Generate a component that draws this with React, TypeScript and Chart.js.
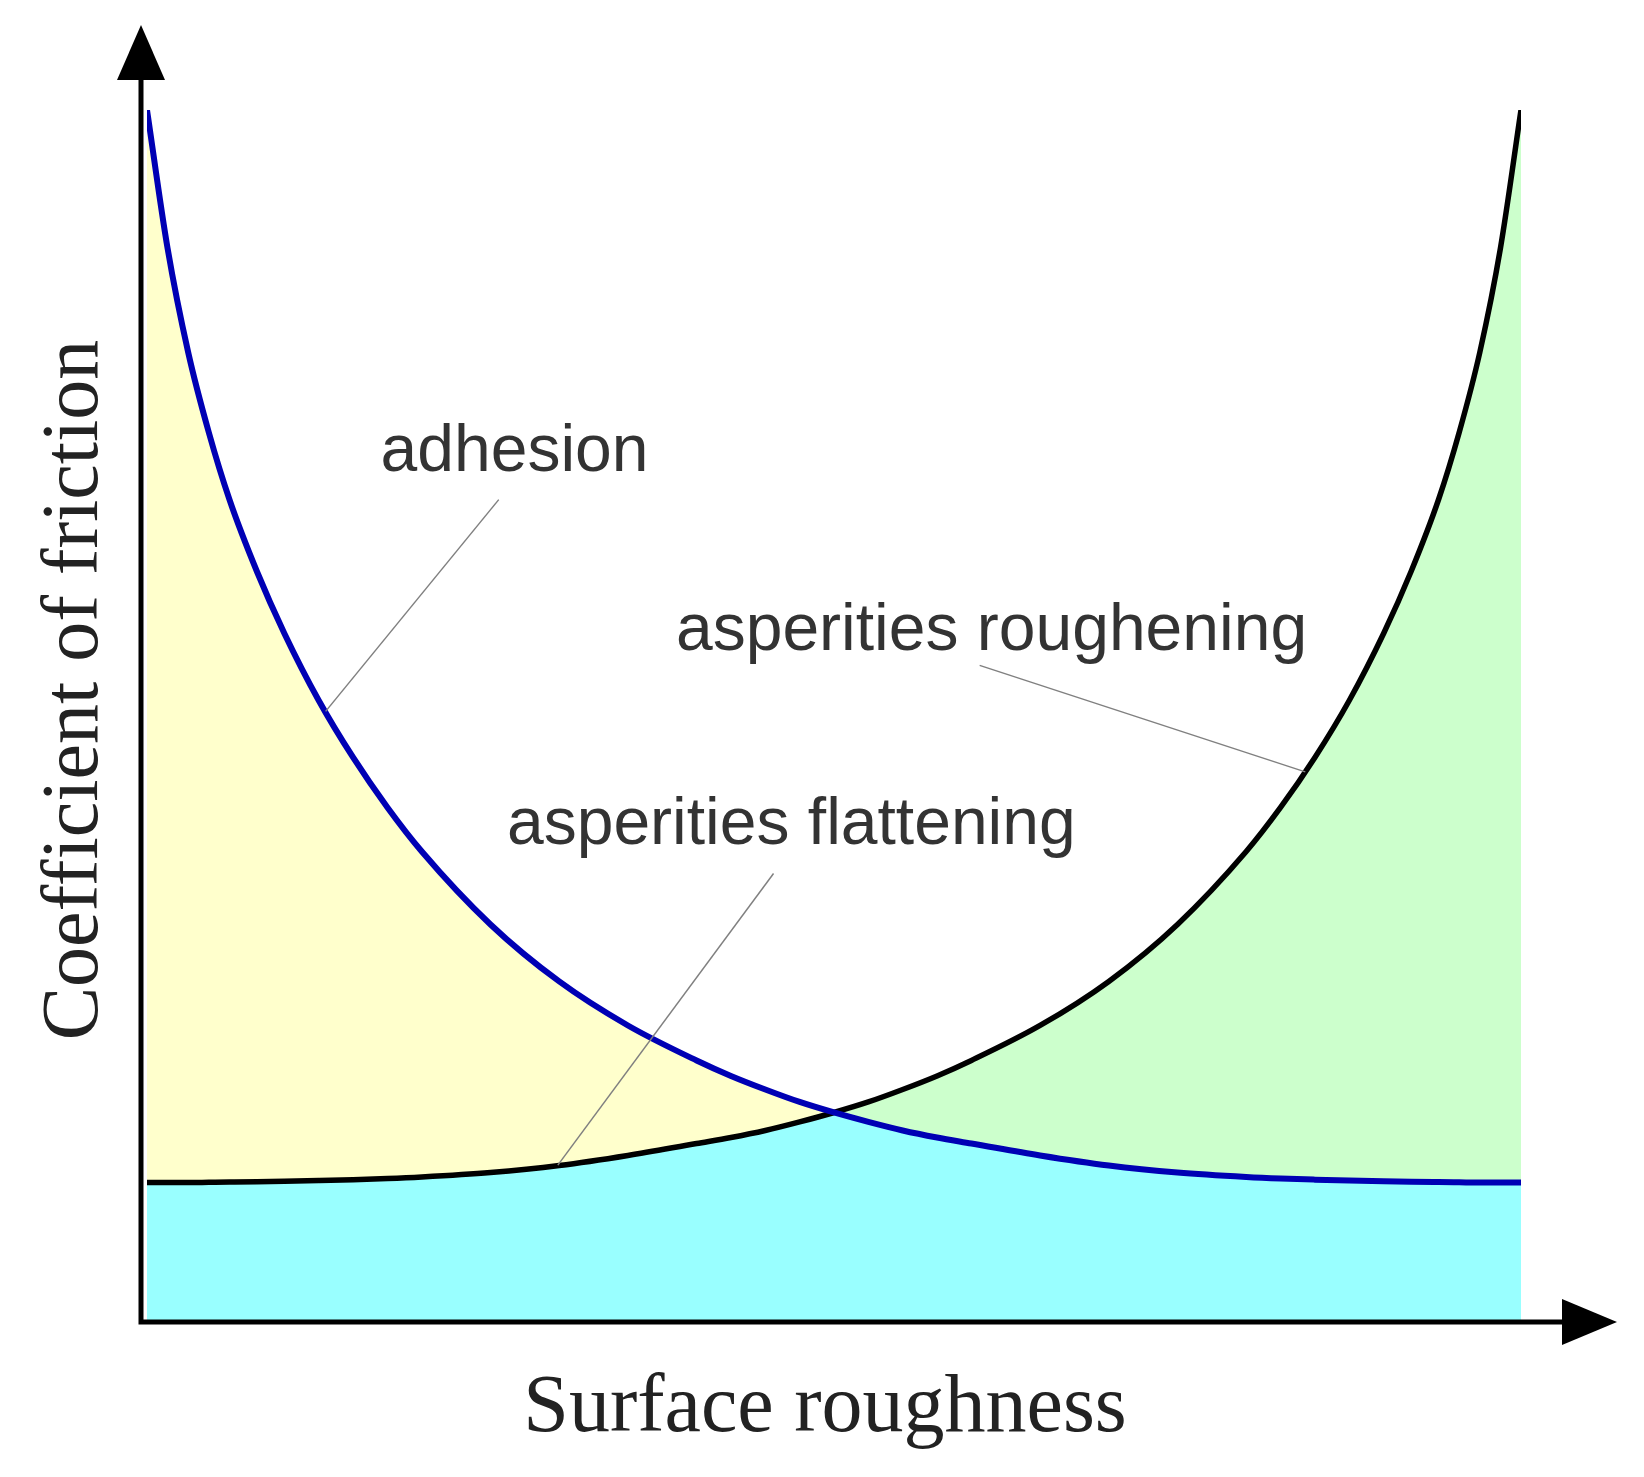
import React, { useEffect, useRef } from "react";
import { Chart, registerables } from "chart.js";

Chart.register(...registerables);

// Surface roughness (x, 0–100 arbitrary units)
const roughness = [0, 1.5, 3, 4.5, 6, 8, 10, 12.5, 15, 17.5, 20, 25, 30, 35, 40, 42.5, 45, 47.5, 50, 52.5, 55, 57.5, 60, 65, 70, 75, 80, 82.5, 85, 87.5, 90, 92, 94, 95.5, 97, 98.5, 100];

// Adhesion component (blue curve), coefficient of friction (0–100 arbitrary units)
const adhesion = [100.0, 88.55, 79.96, 73.35, 67.81, 61.86, 56.74, 51.2, 46.49, 42.36, 38.72, 32.69, 27.98, 24.34, 21.45, 20.17, 19.05, 18.02, 17.15, 16.37, 15.66, 15.08, 14.59, 13.6, 12.77, 12.19, 11.82, 11.69, 11.6, 11.53, 11.47, 11.43, 11.4, 11.38, 11.36, 11.36, 11.36];

// Asperities flattening / roughening component (black curve)
const asperities = [11.36, 11.36, 11.36, 11.38, 11.4, 11.43, 11.47, 11.53, 11.6, 11.69, 11.82, 12.19, 12.77, 13.6, 14.59, 15.08, 15.66, 16.37, 17.15, 18.02, 19.05, 20.17, 21.45, 24.34, 27.98, 32.69, 38.72, 42.36, 46.49, 51.2, 56.74, 61.86, 67.81, 73.35, 79.96, 88.55, 100.0];

const xTitle = "Surface roughness";
const yTitle = "Coefficient of friction";

// Callout labels (text anchor and leader line in data units)
const callouts = [
  { text: "adhesion", tx: 17.0, ty: 70.2, from: [25.6, 67.8], to: [13.0, 50.3] },
  { text: "asperities roughening", tx: 38.5, ty: 55.4, from: [60.6, 54.1], to: [84.3, 45.3] },
  { text: "asperities flattening", tx: 26.2, ty: 39.3, from: [45.6, 36.9], to: [29.9, 12.8] },
];

const baseLevel = adhesion.map((v, i) => Math.min(v, asperities[i]));

const toPoints = (ys: number[]) => roughness.map((x, i) => ({ x, y: ys[i] }));

const overlay = {
  id: "overlay",
  afterDatasetsDraw(chart: any) {
    const { ctx, chartArea, scales } = chart;
    const xs = scales.x;
    const ys = scales.y;
    const x0 = chartArea.left - 6;
    const y0 = ys.getPixelForValue(0) + 2;
    ctx.save();
    // axes
    ctx.strokeStyle = "#000";
    ctx.fillStyle = "#000";
    ctx.lineWidth = 5;
    ctx.lineCap = "butt";
    ctx.beginPath();
    ctx.moveTo(x0, y0 + 2.5);
    ctx.lineTo(x0, chartArea.top - 40);
    ctx.moveTo(x0 - 2.5, y0);
    ctx.lineTo(chartArea.right + 50, y0);
    ctx.stroke();
    // arrow heads
    const yTip = chartArea.top - 85;
    ctx.beginPath();
    ctx.moveTo(x0, yTip);
    ctx.lineTo(x0 - 24, yTip + 55);
    ctx.lineTo(x0 + 24, yTip + 55);
    ctx.closePath();
    ctx.fill();
    const xTip = chartArea.right + 96;
    ctx.beginPath();
    ctx.moveTo(xTip, y0);
    ctx.lineTo(xTip - 55, y0 - 23);
    ctx.lineTo(xTip - 55, y0 + 23);
    ctx.closePath();
    ctx.fill();

    // callouts
    ctx.strokeStyle = "#808080";
    ctx.lineWidth = 1.5;
    ctx.fillStyle = "#333";
    ctx.font = '66px "Liberation Sans", Arial, sans-serif';
    ctx.textAlign = "left";
    ctx.textBaseline = "alphabetic";
    for (const c of callouts) {
      ctx.beginPath();
      ctx.moveTo(xs.getPixelForValue(c.from[0]), ys.getPixelForValue(c.from[1]));
      ctx.lineTo(xs.getPixelForValue(c.to[0]), ys.getPixelForValue(c.to[1]));
      ctx.stroke();
      ctx.fillText(c.text, xs.getPixelForValue(c.tx), ys.getPixelForValue(c.ty));
    }

    // axis titles
    ctx.fillStyle = "#222";
    ctx.textAlign = "center";
    ctx.font = '82px "Liberation Serif", "Times New Roman", serif';
    ctx.fillText(xTitle, chartArea.left + 678, chartArea.bottom + 111);
    ctx.save();
    ctx.translate(chartArea.left - 50, chartArea.top + 580);
    ctx.rotate(-Math.PI / 2);
    ctx.font = '80px "Liberation Serif", "Times New Roman", serif';
    ctx.fillText(yTitle, 0, 0);
    ctx.restore();
    ctx.restore();
  },
};

export default function App() {
  const ref = useRef<HTMLCanvasElement | null>(null);
  useEffect(() => {
    document.body.style.margin = "0";
    const canvas = ref.current;
    if (!canvas) return;
    const chart = new Chart(canvas, {
      type: "line",
      data: {
        datasets: [
          {
            label: "base",
            data: toPoints(baseLevel),
            borderWidth: 0,
            borderColor: "rgba(0,0,0,0)",
            backgroundColor: "#99ffff",
            fill: "origin",
            pointRadius: 0,
            cubicInterpolationMode: "monotone",
            order: 3,
          },
          {
            label: "adhesion",
            data: toPoints(adhesion),
            borderWidth: 6,
            borderColor: "#0000b4",
            backgroundColor: "#ffffcc",
            fill: 0,
            pointRadius: 0,
            cubicInterpolationMode: "monotone",
            order: 1,
          },
          {
            label: "asperities",
            data: toPoints(asperities),
            borderWidth: 5.5,
            borderColor: "#000000",
            backgroundColor: "#ccffcc",
            fill: 0,
            pointRadius: 0,
            cubicInterpolationMode: "monotone",
            order: 2,
          },
        ],
      },
      options: {
        animation: false,
        responsive: false,
        maintainAspectRatio: false,
        devicePixelRatio: 1,
        layout: { padding: { left: 147, right: 123, top: 110, bottom: 157 } },
        plugins: {
          legend: { display: false },
          tooltip: { enabled: false },
          filler: { drawTime: "beforeDatasetsDraw" },
        },
        scales: {
          x: { type: "linear", min: 0, max: 100, display: false },
          y: { type: "linear", min: 0, max: 100, display: false },
        },
      },
      plugins: [overlay],
    } as any);
    return () => chart.destroy();
  }, []);
  return (
    <div style={{ width: 1644, height: 1477, background: "#fff" }}>
      <canvas ref={ref} width={1644} height={1477} style={{ display: "block" }} />
    </div>
  );
}
